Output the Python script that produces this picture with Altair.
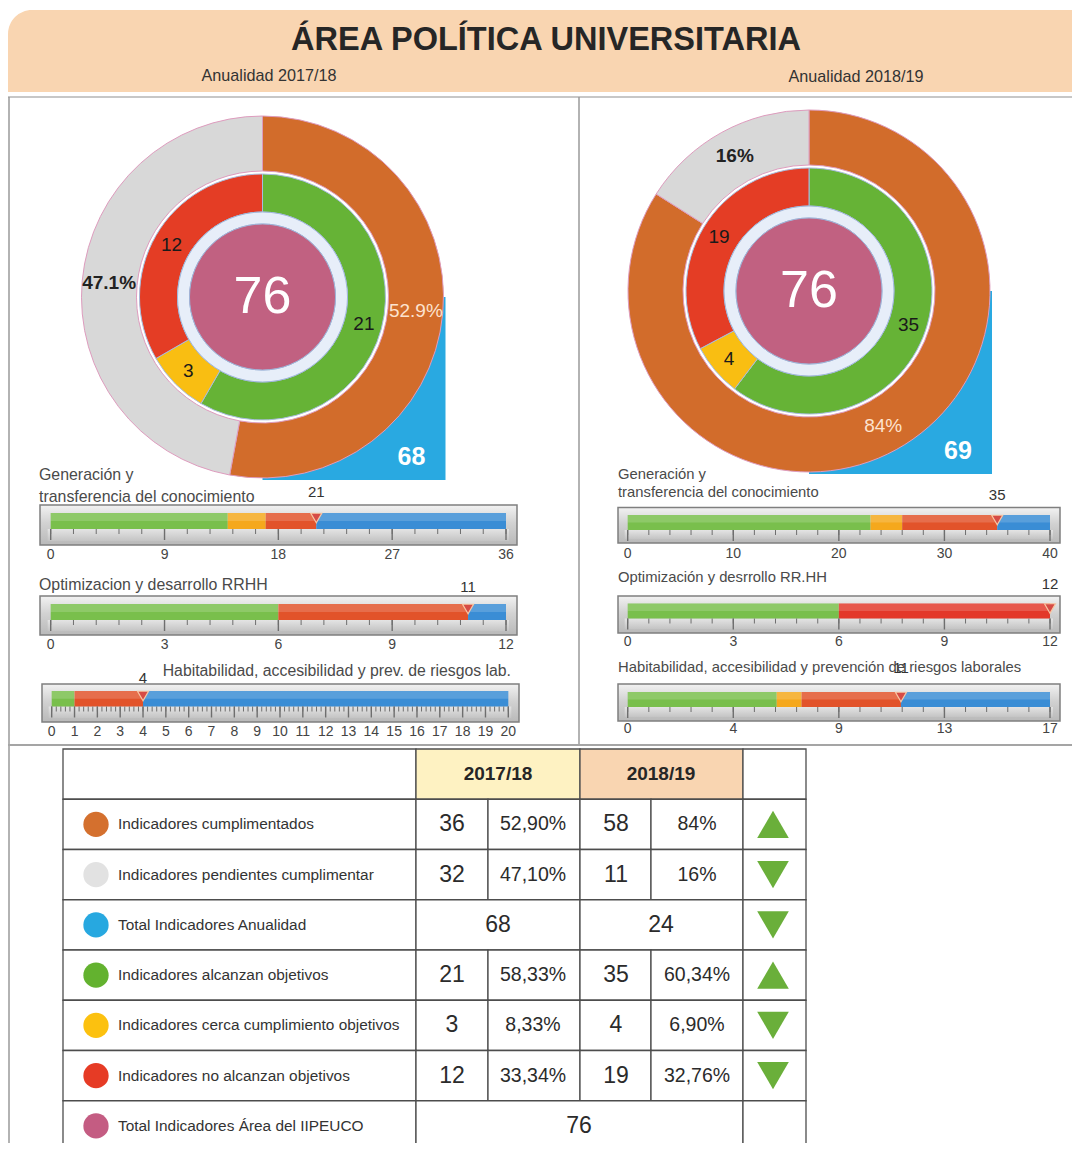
import altair as alt
import pandas as pd
import numpy as np

# ------------------------------------------------------------------ data
YEARS = ["2017/18", "2018/19"]

OUTER_CATS = ["cumplimentados", "pendientes"]
OUTER_PCT_1718 = [52.9, 47.1]
OUTER_PCT_1819 = [84, 16]

INNER_CATS = ["alcanzan", "cerca", "no_alcanzan"]
INNER_1718 = [21, 3, 12]
INNER_1819 = [35, 4, 19]

AREA_TOTAL = [76, 76]
ANUALIDAD_TOTAL = [68, 69]

GAUGE_TITLES_1718 = [["Generación y", "transferencia del conocimiento"],
                     ["Optimizacion y desarrollo RRHH"],
                     ["Habitabilidad, accesibilidad y prev. de riesgos lab."]]
GAUGE_MAX_1718 = [36, 12, 20]
GAUGE_GREEN_1718 = [14, 6, 1]
GAUGE_YELLOW_1718 = [3, 0, 0]
GAUGE_VALUE_1718 = [21, 11, 4]
GAUGE_TICKS_1718 = [[0, 9, 18, 27, 36], [0, 3, 6, 9, 12], list(range(0, 21))]
GAUGE_TICKLABELS_1718 = [["0", "9", "18", "27", "36"], ["0", "3", "6", "9", "12"],
                         [str(t) for t in range(0, 21)]]
GAUGE_MINOR_1718 = [1.8, 0.6, 0.2]

GAUGE_TITLES_1819 = [["Generación y", "transferencia del conocimiento"],
                     ["Optimización y desrrollo RR.HH"],
                     ["Habitabilidad, accesibilidad y prevención de riesgos laborales"]]
GAUGE_MAX_1819 = [40, 12, 17]
GAUGE_GREEN_1819 = [23, 6, 6]
GAUGE_YELLOW_1819 = [3, 0, 1]
GAUGE_VALUE_1819 = [35, 12, 11]
GAUGE_TICKS_1819 = [[0, 10, 20, 30, 40], [0, 3, 6, 9, 12], [0, 4.25, 8.5, 12.75, 17]]
GAUGE_TICKLABELS_1819 = [["0", "10", "20", "30", "40"], ["0", "3", "6", "9", "12"],
                         ["0", "4", "9", "13", "17"]]
GAUGE_MINOR_1819 = [2, 0.6, 0.85]

TABLE_LABELS = ["Indicadores cumplimentados", "Indicadores pendientes cumplimentar",
                "Total Indicadores Anualidad", "Indicadores alcanzan objetivos",
                "Indicadores cerca cumplimiento objetivos", "Indicadores no alcanzan objetivos",
                "Total Indicadores Área del IIPEUCO"]
TABLE_N_1718 = ["36", "32", "68", "21", "3", "12", "76"]
TABLE_P_1718 = ["52,90%", "47,10%", "", "58,33%", "8,33%", "33,34%", ""]
TABLE_N_1819 = ["58", "11", "24", "35", "4", "19", ""]
TABLE_P_1819 = ["84%", "16%", "", "60,34%", "6,90%", "32,76%", ""]
TABLE_TREND = ["up", "down", "down", "up", "down", "down", ""]
TABLE_KIND = ["pair", "pair", "span", "pair", "pair", "pair", "total"]

# ------------------------------------------------------------------ styles
ORANGE, GRAY, BLUE = "#D26C2B", "#D8D8D8", "#29A9E1"
GREEN, YELLOW, RED, PINK, PALE = "#66B336", "#F9BE12", "#E43D25", "#C16181", "#E7EEF9"
G_GREEN, G_YELLOW, G_RED, G_BLUE = "#79BF4C", "#F5A81C", "#E2532A", "#3A8DD5"
TABLE_DOT = ["#D4702E", "#E2E2E2", "#27A8E0", "#63B22F", "#FCC10F", "#E63B25", "#C45C82"]
SANS = "Liberation Sans, Arial, Helvetica, sans-serif"
COND = "'Liberation Sans Narrow', 'Arial Narrow', 'Liberation Sans', Arial, sans-serif"

OX = OY = 8  # page margin


def px(v):
    return v - OX


def py(v):
    return v - OY


FRAME_GRAD = alt.Gradient(gradient="linear", x1=0, x2=0, y1=0, y2=1, stops=[
    alt.GradientStop(color="#F2F2F2", offset=0), alt.GradientStop(color="#D2D2D2", offset=0.45),
    alt.GradientStop(color="#B9B9B9", offset=1)])
RULER_GRAD = alt.Gradient(gradient="linear", x1=0, x2=0, y1=0, y2=1, stops=[
    alt.GradientStop(color="#E4E4E4", offset=0), alt.GradientStop(color="#C4C4C4", offset=1)])

layers = []
ONE = pd.DataFrame({"a": [0]})


def deco_rect(x0, x1, y0, y1, **kw):
    return alt.Chart(ONE).mark_rect(**kw).encode(
        x=alt.value(px(x0)), x2=alt.value(px(x1)), y=alt.value(py(y0)), y2=alt.value(py(y1)))


def deco_rule(x0, x1, y0, y1, **kw):
    return alt.Chart(ONE).mark_rule(**kw).encode(
        x=alt.value(px(x0)), x2=alt.value(px(x1)), y=alt.value(py(y0)), y2=alt.value(py(y1)))


def deco_text(x, y, txt, **kw):
    return alt.Chart(ONE).mark_text(baseline="middle", **kw).encode(
        x=alt.value(px(x)), y=alt.value(py(y)), text=alt.value(txt))


# ------------------------------------------------------------------ header
layers.append(deco_rect(8, 1080, 10, 92, fill="#F9D5B1", cornerRadiusTopLeft=24))
layers.append(deco_text(546, 40, "ÁREA POLÍTICA UNIVERSITARIA", font=COND, fontSize=32.5,
                        fontWeight="bold", color="#262626", align="center"))
layers.append(deco_text(269, 76, "Anualidad " + YEARS[0], font=COND, fontSize=16.2, color="#333333", align="center"))
layers.append(deco_text(856, 77, "Anualidad " + YEARS[1], font=COND, fontSize=16.2, color="#333333", align="center"))

# panel borders
layers.append(deco_rule(8, 1080, 97, 97, color="#B5B5B5", strokeWidth=1.5))
layers.append(deco_rule(9, 9, 97, 1160, color="#9A9A9A", strokeWidth=1.5))
layers.append(deco_rule(579, 579, 97, 745, color="#9A9A9A", strokeWidth=1.5))
layers.append(deco_rule(8, 1080, 745, 745, color="#A5A5A5", strokeWidth=2))


# ------------------------------------------------------------------ donuts
def donut(cx, cy, outer_vals, inner_vals, area_total, anual_total):
    R = 181
    X, Y = alt.value(px(cx)), alt.value(py(cy))
    out = []
    # blue quadrant (total indicadores anualidad)
    out.append(alt.Chart(pd.DataFrame({"v": [anual_total]})).mark_rect(color=BLUE).encode(
        x=X, x2=alt.value(px(cx + R + 2)), y=Y, y2=alt.value(py(cy + R + 2))))
    cdf = pd.DataFrame({"v": [area_total]})
    # white backing disk so the ring gap stays white
    out.append(alt.Chart(cdf).mark_arc(radius=127, color="white").encode(theta="v:Q", x=X, y=Y))
    odf = pd.DataFrame({"cat": OUTER_CATS, "v": outer_vals, "i": [0, 1],
                        "col": [ORANGE, GRAY], "lbl": [f"{v:g}%" for v in outer_vals]})
    th = alt.Theta("v:Q", stack=True)
    out.append(alt.Chart(odf).mark_arc(radius=R, radius2=126, stroke="#DE9CBE", strokeWidth=1).encode(
        theta=th, order=alt.Order("i:Q"), color=alt.Color("col:N", scale=None), x=X, y=Y))
    # labels: keep both slices for stacking, blank the one not drawn by this layer
    out.append(alt.Chart(odf).transform_calculate(
        t="datum.cat == 'cumplimentados' ? datum.lbl : ''").mark_text(
        radius=154, fontSize=19, font=SANS, color="#FDE3CF", baseline="middle")
        .encode(theta=th, order=alt.Order("i:Q"), text="t:N", x=X, y=Y))
    out.append(alt.Chart(odf).transform_calculate(
        t="datum.cat == 'pendientes' ? datum.lbl : ''").mark_text(
        radius=154, fontSize=19, font=SANS, fontWeight="bold", color="#222222", baseline="middle")
        .encode(theta=th, order=alt.Order("i:Q"), text="t:N", x=X, y=Y))
    idf = pd.DataFrame({"cat": INNER_CATS, "v": inner_vals, "i": [0, 1, 2],
                        "col": [GREEN, YELLOW, RED]})
    out.append(alt.Chart(idf).mark_arc(radius=123, radius2=85, stroke="#A7BCDD", strokeWidth=1).encode(
        theta=th, order=alt.Order("i:Q"), color=alt.Color("col:N", scale=None), x=X, y=Y))
    out.append(alt.Chart(idf).mark_text(radius=105, fontSize=19, font=SANS, color="#1A1A1A", baseline="middle")
               .encode(theta=th, order=alt.Order("i:Q"), text="v:Q", x=X, y=Y))
    out.append(alt.Chart(cdf).mark_arc(radius=85, radius2=73, color=PALE, stroke="#9FB6DA", strokeWidth=1)
               .encode(theta="v:Q", x=X, y=Y))
    out.append(alt.Chart(cdf).mark_arc(radius=73, color=PINK, stroke="#9FB6DA", strokeWidth=1)
               .encode(theta="v:Q", x=X, y=Y))
    out.append(alt.Chart(cdf).mark_text(fontSize=52, font=SANS, color="white", baseline="middle")
               .encode(text="v:Q", x=X, y=Y))
    out.append(alt.Chart(pd.DataFrame({"v": [anual_total]})).mark_text(
        fontSize=25, font=SANS, fontWeight="bold", color="white", baseline="middle")
        .encode(text="v:Q", x=alt.value(px(cx + 149)), y=alt.value(py(cy + 160))))
    return out


layers += donut(262.5, 297, OUTER_PCT_1718, INNER_1718, AREA_TOTAL[0], ANUALIDAD_TOTAL[0])
layers += donut(809, 291, OUTER_PCT_1819, INNER_1819, AREA_TOTAL[1], ANUALIDAD_TOTAL[1])

# ------------------------------------------------------------------ gauges
LEFT_GEO = [
    dict(fx=(40, 517), sx=(50.7, 506), fy=(505, 545), by=(513, 529), lab=555, val=492,
         title=[(39, 475), (39, 497)], align="left", fs=15.9),
    dict(fx=(40, 517), sx=(50.7, 506), fy=(596, 635), by=(604, 620), lab=645, val=587,
         title=[(39, 585)], align="left", fs=15.9),
    dict(fx=(42, 519), sx=(51.7, 508.3), fy=(684, 722), by=(691, 706.5), lab=732, val=678,
         title=[(511, 671)], align="right", fs=15.8),
]
RIGHT_GEO = [
    dict(fx=(618, 1060), sx=(627.7, 1050), fy=(507.5, 543), by=(515, 530), lab=554, val=495,
         title=[(618, 475), (618, 493)], align="left", fs=14.8),
    dict(fx=(618, 1060), sx=(627.7, 1050), fy=(596, 633), by=(603.5, 618.5), lab=642, val=584,
         title=[(618, 578)], align="left", fs=14.8),
    dict(fx=(618, 1060), sx=(627.7, 1050), fy=(684, 721), by=(692, 707), lab=729, val=668,
         title=[(618, 668)], align="left", fs=14.8),
]


def gauge(geo, titles, vmax, green, yellow, value, ticks, ticklabels, minor_step, red_col):
    out = []
    s0, s1 = geo["sx"]
    fx0, fx1 = geo["fx"]
    fy0, fy1 = geo["fy"]
    by0, by1 = geo["by"]
    xs = alt.Scale(domain=[0, vmax], range=[px(s0), px(s1)], nice=False, zero=False)
    out.append(deco_rect(fx0, fx1, fy0, fy1, fill=FRAME_GRAD, stroke="#7F7F7F", strokeWidth=1.5))
    out.append(deco_rect(s0 - 3, s1 + 3, by1, fy1 - 4, fill=RULER_GRAD))
    seg = pd.DataFrame({"start": [0, green, green + yellow, value],
                        "end": [green, green + yellow, value, vmax],
                        "col": [G_GREEN, G_YELLOW, red_col, G_BLUE]})
    seg = seg[seg["end"] > seg["start"]]
    yb0, yb1 = alt.value(py(by0)), alt.value(py(by1))
    out.append(alt.Chart(seg).mark_rect().encode(
        x=alt.X("start:Q", scale=xs, axis=None), x2="end:Q", y=yb0, y2=yb1,
        color=alt.Color("col:N", scale=None)))
    out.append(alt.Chart(pd.DataFrame({"start": [0], "end": [vmax]})).mark_rect(color="white", opacity=0.16)
               .encode(x=alt.X("start:Q", scale=xs, axis=None), x2="end:Q",
                       y=yb0, y2=alt.value(py((by0 + by1) / 2))))
    minor = pd.DataFrame({"t": np.round(np.arange(0, vmax + 1e-6, minor_step), 4)})
    out.append(alt.Chart(minor).mark_rule(color="#6E6E6E", strokeWidth=1).encode(
        x=alt.X("t:Q", scale=xs, axis=None), y=yb1, y2=alt.value(py(by1 + 5))))
    major = pd.DataFrame({"t": ticks, "lbl": ticklabels})
    out.append(alt.Chart(major).mark_rule(color="#6E6E6E", strokeWidth=1.4).encode(
        x=alt.X("t:Q", scale=xs, axis=None), y=yb1, y2=alt.value(py(by1 + 11))))
    out.append(alt.Chart(major).mark_text(font=SANS, fontSize=14, color="#444444", baseline="middle").encode(
        x=alt.X("t:Q", scale=xs, axis=None), y=alt.value(py(geo["lab"])), text="lbl:N"))
    vdf = pd.DataFrame({"v": [value]})
    out.append(alt.Chart(vdf).mark_point(shape="triangle-down", filled=True, size=120, fill="#D64B45",
                                         stroke="#F7C6A3", strokeWidth=1.2, opacity=1).encode(
        x=alt.X("v:Q", scale=xs, axis=None), y=alt.value(py(by0 + 5))))
    out.append(alt.Chart(vdf).mark_text(font=SANS, fontSize=15, color="#333333", baseline="middle").encode(
        x=alt.X("v:Q", scale=xs, axis=None), y=alt.value(py(geo["val"])), text="v:Q"))
    for line, (tx, ty) in zip(titles, geo["title"]):
        out.append(deco_text(tx, ty, line, font=SANS, fontSize=geo["fs"], color="#4A4A4A", align=geo["align"]))
    return out


for k in range(3):
    layers += gauge(LEFT_GEO[k], GAUGE_TITLES_1718[k], GAUGE_MAX_1718[k], GAUGE_GREEN_1718[k],
                    GAUGE_YELLOW_1718[k], GAUGE_VALUE_1718[k], GAUGE_TICKS_1718[k],
                    GAUGE_TICKLABELS_1718[k], GAUGE_MINOR_1718[k], G_RED)
    layers += gauge(RIGHT_GEO[k], GAUGE_TITLES_1819[k], GAUGE_MAX_1819[k], GAUGE_GREEN_1819[k],
                    GAUGE_YELLOW_1819[k], GAUGE_VALUE_1819[k], GAUGE_TICKS_1819[k],
                    GAUGE_TICKLABELS_1819[k], GAUGE_MINOR_1819[k], "#E3382A" if k == 1 else G_RED)

# ------------------------------------------------------------------ table
COL_EDGES = [63, 416, 488, 580, 651, 743, 806]
ROWS = ["hdr"] + TABLE_LABELS
ys = alt.Scale(domain=ROWS, range=[py(749), py(1151)], paddingInner=0, paddingOuter=0)
xcell = alt.Scale(domain=list(range(len(COL_EDGES))), range=[px(e) for e in COL_EDGES], nice=False, zero=False)

cells = [("hdr", 0, 1, "white"), ("hdr", 1, 3, "#FEF2C2"), ("hdr", 3, 5, "#F9D5B1"), ("hdr", 5, 6, "white")]
for lbl, kind in zip(TABLE_LABELS, TABLE_KIND):
    if kind == "pair":
        spans = [(0, 1), (1, 2), (2, 3), (3, 4), (4, 5), (5, 6)]
    elif kind == "span":
        spans = [(0, 1), (1, 3), (3, 5), (5, 6)]
    else:
        spans = [(0, 1), (1, 5), (5, 6)]
    cells += [(lbl, a, b, "white") for a, b in spans]
cell_df = pd.DataFrame(cells, columns=["row", "c0", "c1", "fill"])
layers.append(alt.Chart(cell_df).mark_rect(stroke="#4D4D4D", strokeWidth=1.3).encode(
    x=alt.X("c0:Q", scale=xcell, axis=None), x2="c1:Q",
    y=alt.Y("row:N", scale=ys, axis=None), fill=alt.Fill("fill:N", scale=None)))

tdf = pd.DataFrame({"row": TABLE_LABELS, "dot": TABLE_DOT, "n1": TABLE_N_1718, "p1": TABLE_P_1718,
                    "n2": TABLE_N_1819, "p2": TABLE_P_1819, "trend": TABLE_TREND, "kind": TABLE_KIND})
YR = alt.Y("row:N", scale=ys, axis=None)
hdf = pd.DataFrame({"row": ["hdr", "hdr"], "yr": YEARS})
layers.append(alt.Chart(hdf).mark_text(font=COND, fontSize=19, fontWeight="bold", color="#262626", baseline="middle")
              .transform_filter(alt.datum.yr == YEARS[0]).encode(x=alt.value(px(498)), y=YR, text="yr:N"))
layers.append(alt.Chart(hdf).mark_text(font=COND, fontSize=19, fontWeight="bold", color="#262626", baseline="middle")
              .transform_filter(alt.datum.yr == YEARS[1]).encode(x=alt.value(px(661)), y=YR, text="yr:N"))
layers.append(alt.Chart(tdf).mark_point(shape="circle", filled=True, size=640, opacity=1).encode(
    x=alt.value(px(96)), y=YR, color=alt.Color("dot:N", scale=None)))
layers.append(alt.Chart(tdf).mark_text(font=COND, fontSize=15.4, color="#333333", align="left", baseline="middle")
              .encode(x=alt.value(px(118)), y=YR, text="row:N"))


def tcol(field, xc, kind, size):
    return alt.Chart(tdf).mark_text(font=SANS, fontSize=size, color="#2B2B2B", baseline="middle") \
        .transform_filter(alt.datum.kind == kind).encode(x=alt.value(px(xc)), y=YR, text=f"{field}:N")


layers += [tcol("n1", 452, "pair", 23), tcol("p1", 533, "pair", 19.5),
           tcol("n2", 616, "pair", 23), tcol("p2", 697, "pair", 19.5),
           tcol("n1", 498, "span", 23), tcol("n2", 661, "span", 23), tcol("n1", 579, "total", 23)]
layers.append(alt.Chart(tdf).transform_filter(alt.datum.trend != "").mark_point(
    filled=True, size=1000, opacity=1, color="#6AAF3A").encode(
    x=alt.value(px(773)), y=YR,
    shape=alt.Shape("trend:N", scale=alt.Scale(domain=["up", "down"], range=["triangle-up", "triangle-down"]),
                    legend=None)))

chart = alt.layer(*layers).properties(
    width=1064, height=1135, padding=0, autosize=alt.AutoSizeParams(type="none"), background="white"
).resolve_scale(
    x="independent", y="independent", theta="independent", color="independent",
    fill="independent", shape="independent"
).configure_view(stroke=None)

chart.save("out.html", embed_options={"renderer": "svg", "actions": False})
